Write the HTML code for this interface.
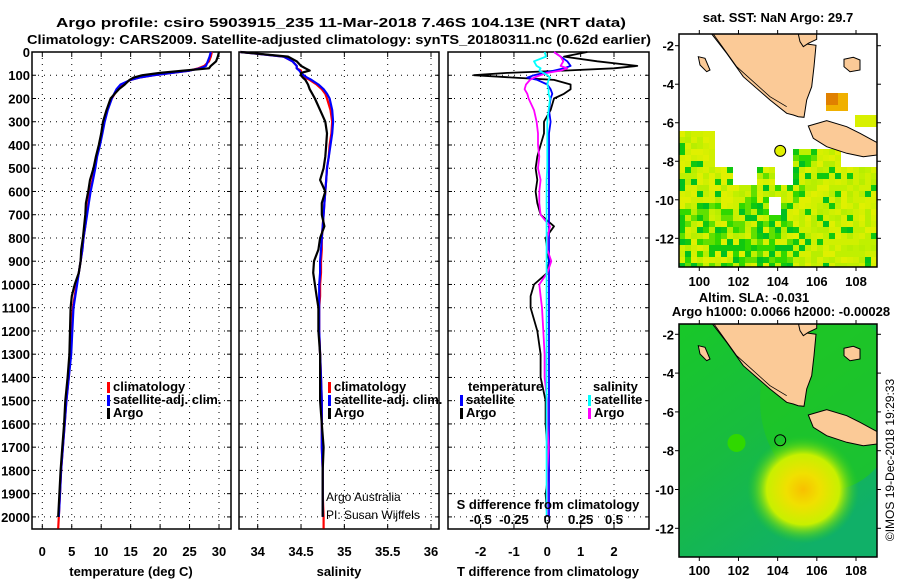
<!DOCTYPE html>
<html><head><meta charset="utf-8"><style>
html,body{margin:0;padding:0;background:#fff}
svg text{font-family:"Liberation Sans",Arial,sans-serif}
.b{font-weight:bold;font-size:13px}
</style></head><body>
<svg id="c" width="900" height="580" viewBox="0 0 900 580" xmlns="http://www.w3.org/2000/svg">
<text x="56" y="27" class="b" font-size="14" textLength="570" lengthAdjust="spacingAndGlyphs">Argo profile: csiro 5903915_235 11-Mar-2018 7.46S 104.13E (NRT data)</text>
<text x="27" y="44" class="b" font-size="14" textLength="624" lengthAdjust="spacingAndGlyphs">Climatology: CARS2009. Satellite-adjusted climatology: synTS_20180311.nc (0.62d earlier)</text>
<g id="g"></g>
</svg>
<script>
const depths=[0,20,40,60,70,80,90,100,110,120,140,160,180,200,250,300,350,400,450,500,550,600,650,700,750,800,850,900,950,1000,1050,1100,1200,1300,1400,1500,1600,1700,1800,1900,2000,2050];
const tClim=[28.8,28.6,28.3,27.5,26.5,25,22,19,16.5,15,13.5,12.8,12.3,11.8,11,10.5,10.1,9.7,9.2,8.9,8.5,8.1,7.8,7.5,7.3,7,6.8,6.5,6.2,5.8,5.5,5.2,5,4.8,4.5,4.1,3.8,3.5,3.2,3.0,2.8,2.7];
const tSat=[28.6,28.4,28.1,27.8,26.8,25,22,19,16.5,15,13.3,12.6,12.2,11.8,11.1,10.6,10.2,9.8,9.3,9.0,8.6,8.2,7.9,7.6,7.3,7,6.8,6.5,6.2,5.9,5.6,5.3,5.1,4.9,4.5,4.1,3.8,3.5,3.2,3.0,2.8,null];
const tArgo=[30,29.8,29.5,28.6,28.3,24,20,17,15.5,14.8,14,13,12.3,11.6,10.9,10.3,10,9.6,9.1,8.7,8.1,7.8,7.4,7.3,7.1,6.9,6.6,6.5,6.2,5.5,5.0,4.8,4.7,4.6,4.3,3.9,3.7,3.4,3.1,2.9,2.7,null];
const sClim=[33.8,34.3,34.4,34.45,34.45,34.5,34.5,34.52,34.55,34.6,34.68,34.74,34.78,34.8,34.84,34.86,34.85,34.83,34.82,34.8,34.79,34.78,34.77,34.76,34.75,34.74,34.74,34.73,34.73,34.72,34.72,34.71,34.71,34.72,34.73,34.74,34.74,34.74,34.75,34.75,34.76,34.76];
const sSat=[33.8,34.3,34.4,34.45,34.45,34.48,34.5,34.53,34.57,34.62,34.7,34.76,34.8,34.83,34.86,34.87,34.86,34.84,34.82,34.8,34.79,34.78,34.77,34.76,34.75,34.74,34.73,34.72,34.72,34.71,34.71,34.71,34.71,34.72,34.73,34.74,34.74,34.74,34.75,34.75,34.75,null];
const sArgo=[33.8,34.35,34.45,34.5,34.55,34.6,34.5,34.5,34.52,34.55,34.58,34.6,34.63,34.66,34.72,34.78,34.8,34.79,34.78,34.76,34.72,34.78,34.74,34.74,34.77,34.72,34.7,34.65,34.64,34.66,34.68,34.7,34.7,34.72,34.72,34.72,34.74,34.76,34.75,34.75,34.75,null];
const dTArgo=[1.2,0.5,1.5,2.7,2.0,0.5,-1.2,-2.2,-1.0,0.2,0.7,0.7,0.5,0.2,0.1,-0.1,-0.1,-0.2,-0.3,-0.35,-0.3,-0.35,-0.3,-0.2,0.2,-0.05,0,0.05,0,-0.4,-0.5,-0.5,-0.3,-0.2,-0.2,-0.05,-0.05,0,0.05,-0.05,0,null];
const dTSat=[0.2,0.4,0.6,0.7,0.5,0.2,-0.1,-0.4,-0.6,-0.3,0,0.1,0.15,0.1,0.05,0.1,0.05,0.05,0.05,0.05,0.05,0.05,0.05,0.05,0.05,0.05,0.05,0.05,0.05,0.05,0.05,0.05,0.05,0.05,0.05,0.05,0.05,0.05,0.05,0.05,0.05,null];
const dSArgo=[0.05,0.1,0.12,0.1,0.15,0.1,0,-0.05,-0.1,-0.13,-0.16,-0.17,-0.15,-0.14,-0.1,-0.08,-0.07,-0.07,-0.06,-0.07,-0.05,-0.06,-0.06,-0.05,0.02,0,0,0.03,0,-0.06,-0.05,-0.04,-0.03,-0.02,-0.02,0,0,0.01,0,0,0,null];
const dSSat=[-0.02,-0.01,-0.1,-0.08,-0.05,-0.06,-0.03,0,0.02,0.01,0,0.01,0.01,0.02,0.01,0,0,0,0,0,-0.005,-0.005,-0.005,-0.005,-0.005,-0.005,-0.005,-0.005,-0.005,-0.005,-0.005,-0.005,-0.005,-0.005,-0.005,-0.005,-0.005,-0.005,-0.005,-0.005,-0.005,null];
const depthTicks=[0,100,200,300,400,500,600,700,800,900,1000,1100,1200,1300,1400,1500,1600,1700,1800,1900,2000];
const tTicks=[0,5,10,15,20,25,30];
const sTicks=[34,34.5,35,35.5,36];
const dTTicks=[-2,-1,0,1,2];
const dSTickLabels=["-0.5","-0.25","0","0.25","0.5"];

const NS="http://www.w3.org/2000/svg";
const G=document.getElementById('g');
function mk(t,a,p){const e=document.createElementNS(NS,t);for(const k in a)e.setAttribute(k,a[k]);(p||G).appendChild(e);return e;}
const TOP=52,BOT=529;
const yD=d=>TOP+d*(BOT-TOP)/2052;
function lin(v0,p0,v1,p1){return v=>p0+(v-v0)*(p1-p0)/(v1-v0);}
const xT=lin(0,42.3,30,219);
const xS=lin(34,257.7,36,431);
const xDT=lin(0,547.3,2,614);
const xDS=v=>xDT(v*4);

function panel(x0,x1,name,xs,xf,labels){
  const f=mk('rect',{x:x0,y:TOP,width:x1-x0,height:BOT-TOP,fill:'none',stroke:'#000','stroke-width':1.5});
  
  depthTicks.forEach(d=>{
    if(d>0){const l=mk('line',{x1:x0,x2:x1,y1:yD(d),y2:yD(d),stroke:'#000','stroke-dasharray':'1 5','stroke-width':1});
    }
    mk('line',{x1:x0,x2:x0+4,y1:yD(d),y2:yD(d),stroke:'#000'});
    mk('line',{x1:x1-4,x2:x1,y1:yD(d),y2:yD(d),stroke:'#000'});
  });
  xs.forEach((v,i)=>{const x=xf(v);
    const l=mk('line',{x1:x,x2:x,y1:TOP,y2:BOT,stroke:'#000','stroke-dasharray':'1 5'});
    
    mk('line',{x1:x,x2:x,y1:TOP,y2:TOP+5,stroke:'#000'});mk('line',{x1:x,x2:x,y1:BOT-5,y2:BOT,stroke:'#000'});
    const t=mk('text',{x:x,y:556,'text-anchor':'middle',class:'b'});t.textContent=labels?labels[i]:String(v);
    
  });
}
function line(xf,vals,color,name,w){
  let pts=[];vals.forEach((v,i)=>{if(v!==null)pts.push(xf(v).toFixed(1)+','+yD(depths[i]).toFixed(1));});
  const p=mk('polyline',{points:pts.join(' '),fill:'none',stroke:color,'stroke-width':w||2.2,'stroke-linejoin':'round'});
  
}
depthTicks.forEach(d=>{const t=mk('text',{x:30,y:yD(d)+5,'text-anchor':'end',class:'b'});t.textContent=d;
  });

panel(32,231,'temperature-panel',tTicks,xT);
line(xT,tClim,'#f00','temperature-climatology-line');
line(xT,tSat,'#00f','temperature-satellite-line');
line(xT,tArgo,'#000','temperature-argo-line');
panel(239,439,'salinity-panel',sTicks,xS);
line(xS,sClim,'#f00','salinity-climatology-line');
line(xS,sSat,'#00f','salinity-satellite-line');
line(xS,sArgo,'#000','salinity-argo-line');
panel(448,649,'difference-panel',dTTicks,xDT);
line(xDT,dTArgo,'#000','t-diff-argo-line',1.8);
line(xDT,dTSat,'#00f','t-diff-satellite-line',1.8);
line(xDS,dSArgo,'#f0f','s-diff-argo-line',1.8);
line(xDS,dSSat,'#0ff','s-diff-satellite-line',1.8);

function txt(x,y,s,name,extra){const t=mk('text',Object.assign({x:x,y:y,class:'b'},extra||{}));t.textContent=s;
  return t;}
function leg(x,y,c,s,name){mk('rect',{x:x,y:y-9,width:3,height:11,fill:c});txt(x+6,y,s,name);}
leg(107,391,'#f00','climatology','legend-climatology');
leg(107,404,'#00f','satellite-adj. clim.','legend-satellite');
leg(107,417,'#000','Argo','legend-argo');
leg(328,391,'#f00','climatology','legend-climatology-s');
leg(328,404,'#00f','satellite-adj. clim.','legend-satellite-s');
leg(328,417,'#000','Argo','legend-argo-s');
txt(468,391,'temperature','legend-temperature-header');
txt(593,391,'salinity','legend-salinity-header');
leg(460,404,'#00f','satellite','legend-t-satellite');
leg(460,417,'#000','Argo','legend-t-argo');
leg(588,404,'#0ff','satellite','legend-s-satellite');
leg(588,417,'#f0f','Argo','legend-s-argo');
txt(548,509,'S difference from climatology','s-axis-title',{'text-anchor':'middle'});
dTTicks.forEach((v,i)=>txt(xDT(v),524,dSTickLabels[i],'s-tick-label',{'text-anchor':'middle'}));
txt(131,576,'temperature (deg C)','x-axis-title-temperature',{'text-anchor':'middle'});
txt(339,576,'salinity','x-axis-title-salinity',{'text-anchor':'middle'});
txt(548,576,'T difference from climatology','x-axis-title-tdiff',{'text-anchor':'middle'});
const a1=mk('text',{x:326,y:501,'font-size':12});a1.textContent='Argo Australia';

const a2=mk('text',{x:326,y:519,'font-size':12});a2.textContent='PI: Susan Wijffels';


// ---------- maps ----------
const MX0=679,MX1=877;
const lonX=lin(100,699.3,108,856);
const latY1=lin(-2,45.7,-12,238.3);
const latY2=lin(-2,334.3,-12,528.3);
const mapLon=[100,102,104,106,108];
const mapLat=[-2,-4,-6,-8,-10,-12];
function zp(arr,dy){return arr.map(p=>(p[0]/3+660).toFixed(1)+','+(p[1]/3+dy).toFixed(1)).join(' ');}
const sumatra=[[155,102],[420,102],[425,130],[468,136],[462,200],[455,260],[440,300],[432,352],[415,350],[400,345],[380,340],[330,300],[250,230],[200,160]];
const bangka=[[415,102],[470,102],[470,118],[445,130],[430,140],[420,125]];
const belitung=[[552,178],[580,172],[600,180],[600,210],[570,215],[552,200]];
const java=[[445,378],[500,362],[560,380],[600,400],[652,428],[652,465],[610,470],[560,460],[500,440],[460,415]];
const nias=[[115,170],[135,175],[150,210],[140,215],[120,195]];
function map(top,bot,name){
  const clip=mk('clipPath',{id:'cl'+name});mk('rect',{x:MX0,y:top,width:MX1-MX0,height:bot-top},clip);
  const g=mk('g',{'clip-path':'url(#cl'+name+')'});
  
  return g;
}
const g1=map(34,267,'sst-map');
mk('rect',{x:MX0,y:34,width:198,height:233,fill:'#fff'},g1);
const yel=['#c8f000','#d8f000','#b8ee00','#e0f000','#c0f000','#d0f000'];
const grn=['#10c810','#30d800','#00c020','#60e000'];
for(let yy=131;yy<267;yy+=6){for(let xx=MX0;xx<MX1;xx+=6){
  let inside = (xx<713&&yy>=131) || (xx>=793&&xx<840&&yy>=147) || (yy>=163);
  if(xx>=713&&xx<722&&yy<160) inside=false;
  if(xx>=730&&xx<790&&yy<180&&yy>=163&&!(xx>=755&&xx<770)) inside=false;
  if(xx>=768&&xx<778&&yy>=195&&yy<215) inside=false;
  if(!inside) continue;
  const h=((xx*7+yy*13)%29+(xx*yy)%11);
  let c;
  const greenZone=(xx<790&&yy>200)||(xx>=740&&xx<800&&yy>170&&yy<200)||(xx>=793&&xx<815&&yy<175);
  if(greenZone) c=(h%5<3)?grn[h%4]:yel[h%6];
  else c=(h%6===0)?grn[h%4]:yel[h%6];
  mk('rect',{x:xx,y:yy,width:6,height:6,fill:c},g1);
}}
mk('rect',{x:826,y:93,width:22,height:18,fill:'#f0b000'},g1);
mk('rect',{x:826,y:93,width:12,height:12,fill:'#e08000'},g1);
mk('rect',{x:855,y:115,width:22,height:12,fill:'#d8f000'},g1);
[sumatra,bangka,belitung,java,nias].forEach(s=>mk('polygon',{points:zp(s,0),fill:'#fbca97',stroke:'#000','stroke-width':1},g1));
mk('polyline',{points:zp([[160,102],[230,200],[330,290],[380,320]],0),fill:'none',stroke:'#000','stroke-width':0.8},g1);
const c1=mk('circle',{cx:lonX(104.13),cy:latY1(-7.46),r:5.5,fill:'#e0f000',stroke:'#000','stroke-width':1},g1);

// map2
const g2=map(324,557,'sla-map');
const defs=mk('defs',{});
const rg=mk('radialGradient',{id:'blob',cx:'0.5',cy:'0.5',r:'0.5'},defs);
[['0','#f8c000'],['0.3','#f0e000'],['0.65','#c8f000'],['1','#28cc20','0']].forEach(s=>{const st=mk('stop',{offset:s[0],'stop-color':s[1]},rg);if(s[2])st.setAttribute('stop-opacity','0');});
const lg=mk('linearGradient',{id:'bg2',x1:'0',y1:'0',x2:'0.6',y2:'1'},defs);
[['0','#18c828'],['0.5','#18bc40'],['1','#10b068']].forEach(s=>mk('stop',{offset:s[0],'stop-color':s[1]},lg));
mk('rect',{x:MX0,y:324,width:198,height:233,fill:'url(#bg2)'},g2);
mk('ellipse',{cx:830,cy:400,rx:70,ry:90,fill:'#20c820',opacity:0.7},g2);
mk('ellipse',{cx:lonX(105.3),cy:latY2(-10),rx:56,ry:54,fill:'url(#blob)'},g2);
mk('ellipse',{cx:lonX(101.9),cy:latY2(-7.6),rx:9,ry:9,fill:'#30d800'},g2);
[sumatra,bangka,belitung,java,nias].forEach(s=>mk('polygon',{points:zp(s,289),fill:'#fbca97',stroke:'#000','stroke-width':1},g2));
mk('polyline',{points:zp([[160,102],[230,200],[330,290],[380,320]],289),fill:'none',stroke:'#000','stroke-width':0.8},g2);
mk('circle',{cx:lonX(104.13),cy:latY2(-7.46),r:5.5,fill:'none',stroke:'#000','stroke-width':1},g2);
function mapAxes(top,bot,latY,labY,nm){
  const f=mk('rect',{x:MX0,y:top,width:MX1-MX0,height:bot-top,fill:'none',stroke:'#000','stroke-width':1.5});
  
  mapLat.forEach(v=>{const y=latY(v);mk('line',{x1:MX0-4,x2:MX0,y1:y,y2:y,stroke:'#000'});mk('line',{x1:MX1,x2:MX1+4,y1:y,y2:y,stroke:'#000'});
    txt(674,y+5,String(v),nm+'-lat-label',{'text-anchor':'end'});});
  mapLon.forEach(v=>{const x=lonX(v);mk('line',{x1:x,x2:x,y1:top-4,y2:top,stroke:'#000'});mk('line',{x1:x,x2:x,y1:bot,y2:bot+4,stroke:'#000'});
    txt(x,labY,String(v),nm+'-lon-label',{'text-anchor':'middle'});});
}
mapAxes(34,267,latY1,286,'sst-map');
mapAxes(324,557,latY2,575,'sla-map');
txt(778,22,'sat. SST: NaN Argo: 29.7','sst-map-title',{'text-anchor':'middle'});
txt(754,302,'Altim. SLA: -0.031','sla-map-title',{'text-anchor':'middle'});
txt(781,316,'Argo h1000: 0.0066 h2000: -0.00028','sla-map-subtitle',{'text-anchor':'middle'});
const cr=mk('text',{x:0,y:0,'font-size':12,'text-anchor':'middle',transform:'translate(894,460) rotate(-90)'});
cr.textContent='©IMOS 19-Dec-2018 19:29:33';

</script>
</body></html>
